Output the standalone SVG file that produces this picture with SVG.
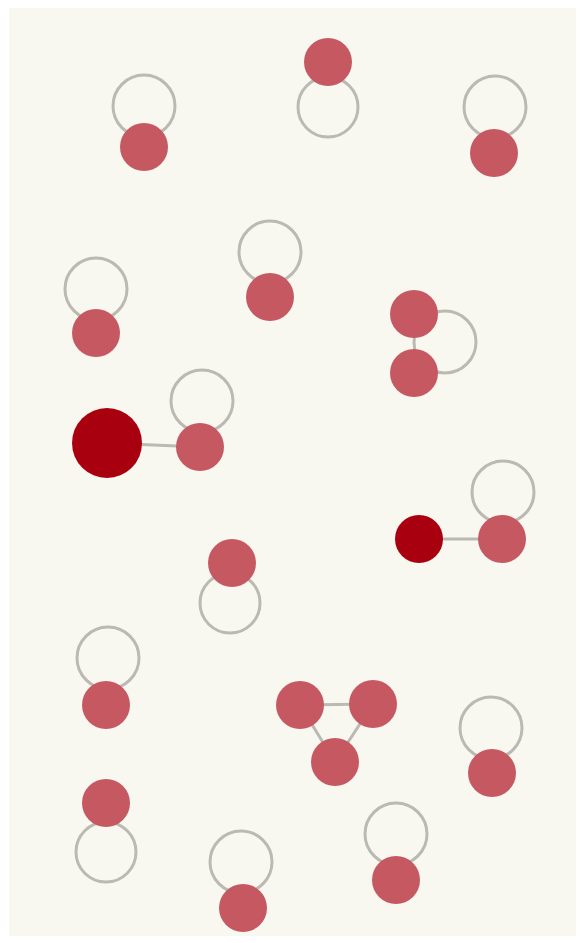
<svg xmlns="http://www.w3.org/2000/svg" width="583" height="943" viewBox="0 0 583 943">
<style>
.bg{fill:#f9f8f0}
.loop{fill:none;stroke:#babab2;stroke-width:3}
.edge{stroke:#babab2;stroke-width:3;fill:none}
.n{fill:#c65862}
.d{fill:#a8000f}
</style>
<rect width="583" height="943" fill="#ffffff"/>
<rect class="bg" x="9" y="8" width="567" height="928"/>
<g id="edges">
<circle class="loop" cx="144" cy="106" r="31"/>
<circle class="loop" cx="328" cy="107" r="30"/>
<circle class="loop" cx="495" cy="107" r="31"/>
<circle class="loop" cx="270" cy="252" r="31"/>
<circle class="loop" cx="96" cy="289" r="31"/>
<circle class="loop" cx="445" cy="342" r="31"/>
<line class="edge" x1="107" y1="443" x2="200" y2="447"/>
<circle class="loop" cx="202" cy="401" r="31"/>
<line class="edge" x1="419" y1="539" x2="502" y2="539"/>
<circle class="loop" cx="503" cy="492" r="31"/>
<circle class="loop" cx="230" cy="603" r="30"/>
<circle class="loop" cx="108" cy="658" r="31"/>
<polygon class="edge" points="300,705 373,704 335,762"/>
<circle class="loop" cx="491" cy="728" r="31"/>
<circle class="loop" cx="106" cy="852" r="30"/>
<circle class="loop" cx="241" cy="862" r="31"/>
<circle class="loop" cx="396" cy="834" r="31"/>
</g>
<g id="n1"><circle class="n" cx="144" cy="147" r="24"/></g>
<g id="n2"><circle class="n" cx="328" cy="62" r="24"/></g>
<g id="n3"><circle class="n" cx="494" cy="153" r="24"/></g>
<g id="n4"><circle class="n" cx="270" cy="297" r="24"/></g>
<g id="n5"><circle class="n" cx="96" cy="333" r="24"/></g>
<g id="n6"><circle class="n" cx="414" cy="314" r="24"/></g>
<g id="n7"><circle class="n" cx="414" cy="373" r="24"/></g>
<g id="n8"><circle class="d" cx="107" cy="443" r="35"/></g>
<g id="n9"><circle class="n" cx="200" cy="447" r="24"/></g>
<g id="n10"><circle class="d" cx="419" cy="539" r="24"/></g>
<g id="n11"><circle class="n" cx="502" cy="539" r="24"/></g>
<g id="n12"><circle class="n" cx="232" cy="563" r="24"/></g>
<g id="n13"><circle class="n" cx="106" cy="705" r="24"/></g>
<g id="n14"><circle class="n" cx="300" cy="705" r="24"/></g>
<g id="n15"><circle class="n" cx="373" cy="704" r="24"/></g>
<g id="n16"><circle class="n" cx="335" cy="762" r="24"/></g>
<g id="n17"><circle class="n" cx="492" cy="773" r="24"/></g>
<g id="n18"><circle class="n" cx="106" cy="803" r="24"/></g>
<g id="n19"><circle class="n" cx="243" cy="908" r="24"/></g>
<g id="n20"><circle class="n" cx="396" cy="880" r="24"/></g>
</svg>
